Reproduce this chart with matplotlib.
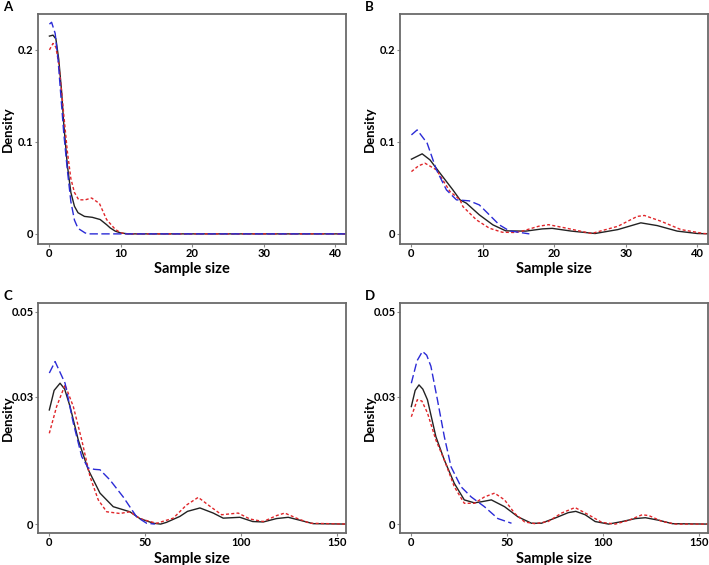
import matplotlib
matplotlib.use("Agg")
import matplotlib.pyplot as plt

plt.rcParams['font.family'] = ['Lato', 'DejaVu Sans']

# ---------------- Panel A ----------------
a_black_x = [0, 0.5, 0.9, 1.3, 1.7, 2, 2.5, 3, 3.5, 4, 4.9, 6, 7.1, 8, 8.5, 9.2, 10, 11, 42]
a_black_y = [0.215, 0.216, 0.212, 0.19, 0.155, 0.12, 0.075, 0.045, 0.03, 0.023, 0.019, 0.018, 0.0156, 0.01, 0.0065, 0.003, 0.001, 0.0, 0.0]
a_red_x = [0, 0.5, 0.9, 1.3, 1.7, 2, 2.5, 3, 3.5, 4.1, 5, 5.9, 7, 8, 9.2, 10, 11, 42]
a_red_y = [0.2, 0.207, 0.203, 0.185, 0.155, 0.13, 0.09, 0.06, 0.045, 0.037, 0.037, 0.039, 0.033, 0.0156, 0.005, 0.001, 0.0, 0.0]
a_blue_x = [0, 0.3, 0.8, 1.2, 1.6, 2, 2.5, 3, 3.5, 4, 5, 5.5, 42]
a_blue_y = [0.228, 0.23, 0.218, 0.19, 0.15, 0.11, 0.07, 0.035, 0.015, 0.006, 0.001, 0.0, 0.0]

# ---------------- Panel B ----------------
b_black_x = [0, 1.5, 2.6, 4, 5.8, 6.8, 7.7, 9.5, 11.4, 13.2, 16, 18.3, 19.7, 22.4, 25.7, 28.9, 32.1, 34.4, 37.2, 40, 42]
b_black_y = [0.0812, 0.087, 0.0804, 0.066, 0.0478, 0.037, 0.0333, 0.0207, 0.0098, 0.0033, 0.003, 0.0054, 0.006, 0.003, 0.0004, 0.0047, 0.012, 0.009, 0.003, 0.0004, 0.0]
b_red_x = [0, 1, 1.9, 3.5, 5.4, 6.8, 7.2, 9.1, 10.9, 12.7, 14.5, 15.5, 17.8, 19.2, 21.5, 25.2, 28.9, 31.6, 32.6, 34.9, 37.7, 40.9, 42]
b_red_y = [0.0677, 0.074, 0.0768, 0.0696, 0.046, 0.037, 0.0297, 0.0152, 0.0062, 0.0018, 0.0015, 0.003, 0.0083, 0.01, 0.0065, 0.0004, 0.0083, 0.019, 0.02, 0.0138, 0.0047, 0.0004, 0.0]
b_blue_x = [0, 0.8, 2.2, 3.5, 4.9, 6.3, 8.1, 9.5, 10.9, 12.3, 13.7, 15.3, 16.5]
b_blue_y = [0.1076, 0.113, 0.0986, 0.0696, 0.0478, 0.037, 0.0359, 0.0315, 0.0207, 0.0098, 0.0033, 0.0014, 0.0]

# ---------------- Panel C ----------------
c_black_x = [0, 2.5, 5.6, 8, 10.8, 15.1, 20.3, 26.4, 33.3, 42, 47.2, 54.2, 58, 61, 68, 72, 78.5, 85.4, 90.6, 99.3, 106, 111.5, 118.4, 124.5, 130.6, 137.5, 155]
c_black_y = [0.0269, 0.0315, 0.0332, 0.0318, 0.0277, 0.0198, 0.0128, 0.0073, 0.0041, 0.0029, 0.0013, 0.0002, 0.0, 0.0004, 0.0018, 0.003, 0.0038, 0.0026, 0.0014, 0.0016, 0.0006, 0.0005, 0.0013, 0.0016, 0.0009, 0.0001, 0.0]
c_red_x = [0, 3.8, 8.2, 12.5, 16.9, 21.2, 25.5, 29.9, 36.8, 42, 47.2, 52.4, 56, 64.6, 71.5, 77.6, 83.7, 89.8, 98.4, 104.5, 111.5, 118.4, 122.7, 128.8, 135.8, 155]
c_red_y = [0.0214, 0.0277, 0.0328, 0.0277, 0.0198, 0.0112, 0.0057, 0.0029, 0.0025, 0.0029, 0.0013, 0.0006, 0.0002, 0.0014, 0.0045, 0.0063, 0.0042, 0.0022, 0.0026, 0.0012, 0.0006, 0.002, 0.0026, 0.0014, 0.0002, 0.0]
c_blue_x = [0, 3, 8.2, 12.5, 16.9, 20.3, 23.5, 26.4, 31.6, 38.5, 45.5, 50.7, 55]
c_blue_y = [0.0356, 0.0383, 0.0332, 0.0238, 0.0159, 0.0132, 0.0129, 0.0128, 0.0104, 0.0064, 0.0017, 0.0002, 0.0]

# ---------------- Panel D ----------------
d_black_x = [0, 2, 4, 6, 8.4, 12.8, 17.2, 22.4, 27.6, 32.9, 37, 41.7, 48.6, 55.6, 62.6, 67.8, 74.8, 81.8, 85.7, 90.6, 95.8, 102.8, 109.8, 116.8, 122, 129, 136, 155]
d_black_y = [0.0277, 0.0315, 0.0328, 0.0318, 0.0293, 0.0206, 0.0151, 0.0096, 0.0057, 0.005, 0.0053, 0.0057, 0.0041, 0.0017, 0.0002, 0.0002, 0.0014, 0.0027, 0.003, 0.0022, 0.0006, 0.0, 0.0006, 0.0013, 0.0015, 0.0009, 0.0001, 0.0]
d_red_x = [0, 3.1, 5.5, 8.4, 12.8, 17.2, 22.4, 27.6, 32.9, 38.1, 43.4, 48.6, 53.9, 59.1, 64.3, 71.3, 78.3, 85.3, 92.3, 99.3, 106.3, 113.3, 120.3, 123.8, 130.8, 137.8, 155]
d_red_y = [0.0253, 0.0293, 0.029, 0.0262, 0.0198, 0.0151, 0.0088, 0.0049, 0.0049, 0.0064, 0.0073, 0.0057, 0.0025, 0.0005, 0.0001, 0.0006, 0.0026, 0.0039, 0.0022, 0.0004, 0.0, 0.0009, 0.0022, 0.002, 0.0006, 0.0, 0.0]
d_blue_x = [0, 3, 5.8, 8, 10.2, 13.6, 17.2, 20.7, 25.9, 31.2, 38.1, 45.1, 52.2]
d_blue_y = [0.0332, 0.0385, 0.0407, 0.0398, 0.0372, 0.0293, 0.0206, 0.0135, 0.0088, 0.0064, 0.0041, 0.0013, 0.0002]

ab_xticks = [0, 10, 20, 30, 40]
ab_yticks = [0, 0.1, 0.2]
ab_yticklabels = ['0', '0.1', '0.2']
cd_xticks = [0, 50, 100, 150]
cd_yticks = [0, 0.03, 0.05]
cd_yticklabels = ['0', '0.03', '0.05']

panel_labels = ['A', 'B', 'C', 'D']

W, H = 709, 565
fig = plt.figure(figsize=(W / 100, H / 100), dpi=100)

def px_axes(l, t, r, b):
    return fig.add_axes([l / W, 1 - b / H, (r - l) / W, (b - t) / H])

boxes = [(38, 14, 346, 244), (400, 14, 708, 244), (38, 303, 346, 533), (400, 303, 708, 533)]

data = [
    (a_black_x, a_black_y, a_red_x, a_red_y, a_blue_x, a_blue_y),
    (b_black_x, b_black_y, b_red_x, b_red_y, b_blue_x, b_blue_y),
    (c_black_x, c_black_y, c_red_x, c_red_y, c_blue_x, c_blue_y),
    (d_black_x, d_black_y, d_red_x, d_red_y, d_blue_x, d_blue_y),
]

frame_col = '#6a6a6a'
blue = '#2b2bd6'
red = '#e0262a'

for i, (box, dd, lab) in enumerate(zip(boxes, data, panel_labels)):
    ax = px_axes(*box)
    bx, by, rx, ry, ux, uy = dd
    ax.plot(bx, by, color='#222222', lw=1.0, solid_joinstyle='round')
    ax.plot(rx, ry, color=red, lw=1.0, linestyle=(0, (2.2, 1.6)))
    ax.plot(ux, uy, color=blue, lw=1.0, linestyle=(0, (6, 2.5)))
    if i < 2:
        ax.set_xlim(-1.6, 41.5)
        ax.set_ylim(-0.011, 0.239)
        ax.set_xticks(ab_xticks)
        ax.set_yticks(ab_yticks)
        ax.set_yticklabels(ab_yticklabels)
    else:
        ax.set_xlim(-5.9, 154.6)
        ax.set_ylim(-0.0021, 0.0521)
        ax.set_xticks(cd_xticks)
        ax.set_yticks(cd_yticks)
        ax.set_yticklabels(cd_yticklabels)
    for s in ax.spines.values():
        s.set_color(frame_col)
        s.set_linewidth(1.3)
    ax.tick_params(direction='out', length=2, width=0.8, color='#888888',
                   labelsize=8, pad=1.2)
    for t in ax.get_xticklabels() + ax.get_yticklabels():
        t.set_fontweight('bold')
    ax.set_xlabel('Sample size', fontsize=10.5, fontweight='bold')
    ax.set_ylabel('Density', fontsize=9.5, fontweight='bold')
    ax.xaxis.set_label_coords(0.5, -0.078 if i < 2 else -0.081)
    ax.yaxis.set_label_coords(-0.079, 0.5)
    l, t, r, b = box
    fig.text((l - 35) / W, 1 - (t - 7) / H, lab, fontsize=9.5, fontweight='bold',
             ha='left', va='center')

fig.savefig('out.png', dpi=100)
